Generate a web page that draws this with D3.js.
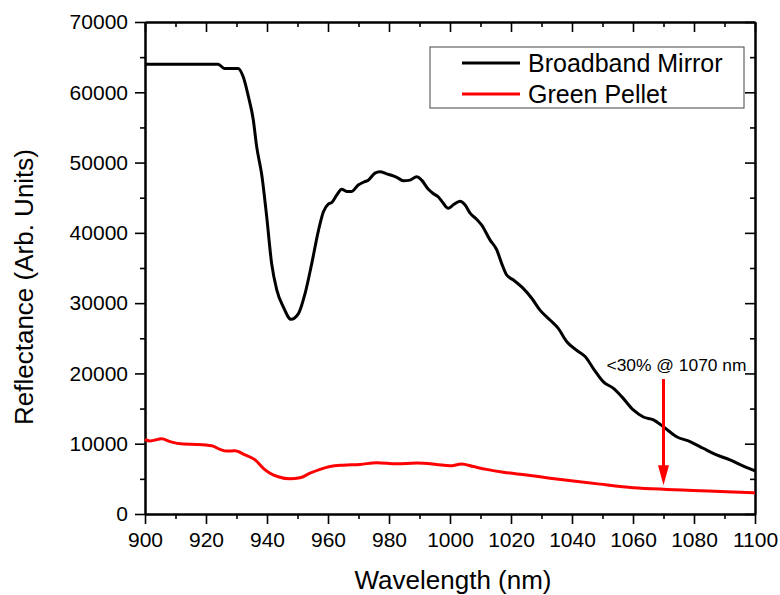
<!DOCTYPE html>
<html>
<head>
<meta charset="utf-8">
<script src="https://cdn.jsdelivr.net/npm/d3@7"></script>
<style>
  body { margin: 0; background: #fff; }
  svg { display: block; font-family: "Liberation Sans", Arial, sans-serif; }
</style>
</head>
<body>
<svg id="chart" width="780" height="595"></svg>
<script>
// wavelength (nm) and reflectance
var mirrorNm = [900, 924, 926, 930.5, 932.2, 933.9, 935.5, 936.6, 938.3, 939.9, 941.5, 943.2, 945.3, 947.9,
  950.3, 952.5, 954.7, 956.9, 958.5, 960.1, 961.2, 962.9, 964.5, 966.1, 967.8, 969.9, 971.6, 973.2, 975.4,
  977, 979.2, 981.4, 983, 984.7, 986.9, 989.1, 990.7, 992.9, 994.5, 996.2, 997.8, 999.4, 1001.1, 1003.3,
  1004.9, 1006.6, 1008.8, 1010.4, 1013.1, 1015.3, 1016.9, 1018.6, 1020.8, 1024, 1026.8, 1029.5, 1032.8,
  1035.5, 1038.3, 1041.5, 1044.3, 1047, 1050.3, 1053.5, 1056.3, 1060.1, 1063.4, 1066.7, 1070, 1074.3,
  1078.7, 1083, 1087.4, 1091.8, 1096.2, 1100];
var mirrorVal = [64000, 64000, 63400, 63400, 62200, 59400, 56100, 52300, 48200, 42300, 35700, 31900, 29500, 27700,
  28500, 31400, 35700, 40400, 43000, 44100, 44300, 45400, 46200, 45900, 45900, 46800, 47200, 47500, 48500,
  48700, 48400, 48100, 47800, 47400, 47500, 48000, 47500, 46200, 45600, 45100, 44200, 43500, 44000, 44500,
  44000, 42800, 41900, 41100, 39000, 37600, 35700, 34000, 33300, 32100, 30700, 29000, 27600,
  26400, 24500, 23300, 22400, 20700, 18800, 17900, 16700, 14800, 13800, 13400, 12400, 11000,
  10300, 9350, 8400, 7700, 6800, 6150];

var pelletNm = [900, 901.6, 905.5, 908.2, 912.6, 916.9, 921.9, 924.6, 926.8, 929.5, 932.8, 936.1, 938.8, 941,
  943.7, 947.5, 950.8, 954.1, 957.4, 960.7, 965, 970.5, 976, 982.5, 989.1, 995.6, 1000, 1003.8, 1007.6,
  1012, 1017.5, 1025.1, 1032.8, 1040.4, 1049.2, 1060.1, 1071, 1079.8, 1090.7, 1100];
var pelletVal = [10600, 10400, 10700, 10300, 9950, 9900, 9700, 9200, 8950, 9000, 8400, 7700, 6500, 5800,
  5300, 5000, 5150, 5800, 6350, 6750, 6950, 7050, 7300, 7150, 7250, 7050, 6850, 7100, 6750,
  6350, 5950, 5550, 5100, 4700, 4250, 3750, 3500, 3350, 3150, 3000];

var seriesNames = ["Broadband Mirror", "Green Pellet"];
var seriesColors = ["#000000", "#ff0000"];

var xMajor = d3.range(900, 1101, 20);
var xMinor = d3.range(910, 1100, 20);
var yMajor = d3.range(0, 70001, 10000);
var yMinor = d3.range(5000, 70000, 10000);

var noteText = "<30% @ 1070 nm";
var noteNm = 1070, noteFrom = 19200, noteTo = 4100;

var margin = {top: 22, right: 25, bottom: 81, left: 145};
var W = 780, H = 595;
var w = W - margin.left - margin.right;
var h = H - margin.top - margin.bottom;

var svg = d3.select("#chart");
var g = svg.append("g").attr("transform", "translate(" + margin.left + "," + margin.top + ")");

var x = d3.scaleLinear().domain([900, 1100]).range([0, w]);
var y = d3.scaleLinear().domain([0, 70000]).range([h, 0]);

function styleAxis(sel) {
  sel.attr("font-family", null).attr("font-size", null);
  sel.select(".domain").attr("stroke-width", 2);
  sel.selectAll(".tick line").attr("stroke-width", 1.6);
  sel.selectAll("text").style("font-size", "21px").attr("fill", "#000");
}

// bottom + left: outward ticks with labels
g.append("g").attr("transform", "translate(0," + h + ")")
  .call(d3.axisBottom(x).tickValues(xMajor).tickSize(10).tickSizeOuter(0).tickPadding(8).tickFormat(d3.format("d")))
  .call(styleAxis);
g.append("g").attr("transform", "translate(0," + h + ")")
  .call(d3.axisBottom(x).tickValues(xMinor).tickSize(5).tickSizeOuter(0).tickFormat(""))
  .call(styleAxis);
g.append("g")
  .call(d3.axisLeft(y).tickValues(yMajor).tickSize(10).tickSizeOuter(0).tickPadding(7).tickFormat(d3.format("d")))
  .call(styleAxis);
g.append("g")
  .call(d3.axisLeft(y).tickValues(yMinor).tickSize(5).tickSizeOuter(0).tickFormat(""))
  .call(styleAxis);

// top + right: inward ticks, no labels
g.append("g")
  .call(d3.axisTop(x).tickValues(xMajor).tickSize(-10).tickSizeOuter(0).tickFormat(""))
  .call(styleAxis);
g.append("g")
  .call(d3.axisTop(x).tickValues(xMinor).tickSize(-5).tickSizeOuter(0).tickFormat(""))
  .call(styleAxis);
g.append("g").attr("transform", "translate(" + w + ",0)")
  .call(d3.axisRight(y).tickValues(yMajor).tickSize(-10).tickSizeOuter(0).tickFormat(""))
  .call(styleAxis);
g.append("g").attr("transform", "translate(" + w + ",0)")
  .call(d3.axisRight(y).tickValues(yMinor).tickSize(-5).tickSizeOuter(0).tickFormat(""))
  .call(styleAxis);

var line = d3.line()
  .x(function(d) { return x(d[0]); })
  .y(function(d) { return y(d[1]); })
  .curve(d3.curveMonotoneX);

var series = [d3.zip(mirrorNm, mirrorVal), d3.zip(pelletNm, pelletVal)];

g.selectAll("path.series")
  .data(series)
  .enter()
  .append("path")
  .attr("class", "series")
  .attr("fill", "none")
  .attr("stroke", function(d, i) { return seriesColors[i]; })
  .attr("stroke-width", 3)
  .attr("stroke-linejoin", "round")
  .attr("d", line);

// annotation arrow
var ax = x(noteNm), ay0 = y(noteFrom), ay1 = y(noteTo);
g.append("line")
  .attr("x1", ax).attr("x2", ax)
  .attr("y1", ay0).attr("y2", ay1 - 18)
  .attr("stroke", "#ff0000").attr("stroke-width", 3);
g.append("path")
  .attr("d", "M" + (ax - 5.5) + "," + (ay1 - 20) + "L" + (ax + 5.5) + "," + (ay1 - 20) + "L" + ax + "," + ay1 + "Z")
  .attr("fill", "#ff0000");
g.append("text")
  .attr("x", ax - 57).attr("y", ay0 - 8)
  .attr("textLength", 140).attr("lengthAdjust", "spacingAndGlyphs")
  .style("font-size", "17px")
  .text(noteText);

// legend
var legend = svg.append("g").attr("transform", "translate(430,47)");
legend.append("rect")
  .attr("width", 314).attr("height", 61)
  .attr("fill", "#fff").attr("stroke", "#444").attr("stroke-width", 1);
var items = legend.selectAll("g.item")
  .data(seriesNames)
  .enter()
  .append("g")
  .attr("class", "item")
  .attr("transform", function(d, i) { return "translate(0," + (16 + i * 31) + ")"; });
items.append("line")
  .attr("x1", 32).attr("x2", 90)
  .attr("stroke", function(d, i) { return seriesColors[i]; })
  .attr("stroke-width", 3);
items.append("text")
  .attr("x", 98).attr("y", 9)
  .style("font-size", "25px")
  .text(function(d) { return d; });

// axis titles
svg.append("text")
  .attr("x", margin.left + w / 2 + 3).attr("y", 589)
  .attr("text-anchor", "middle")
  .style("font-size", "26px")
  .text("Wavelength (nm)");
svg.append("text")
  .attr("transform", "translate(33,287) rotate(-90)")
  .attr("text-anchor", "middle")
  .style("font-size", "26px")
  .text("Reflectance (Arb. Units)");
</script>
</body>
</html>
